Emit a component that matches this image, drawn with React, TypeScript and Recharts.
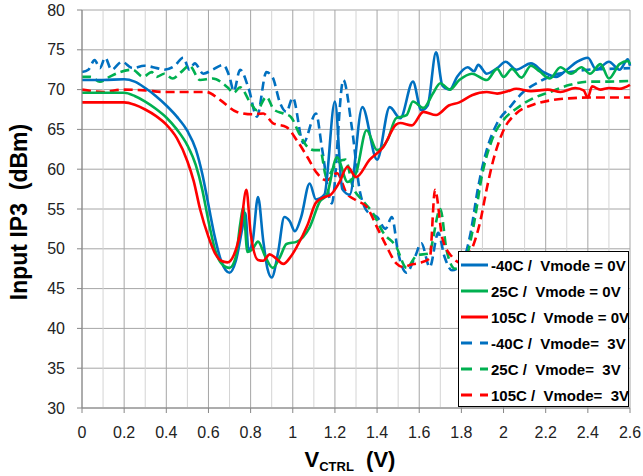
import React from "react";
import { LineChart, Line, XAxis, YAxis, CartesianGrid, ReferenceLine } from "recharts";

// x ticks every 0.1 V (labels only on the 0.2 steps)
const xTicks = [
  0, 0.1, 0.2, 0.3, 0.4, 0.5, 0.6, 0.7, 0.8, 0.9, 1, 1.1, 1.2, 1.3, 1.4, 1.5, 1.6, 1.7, 1.8, 1.9, 2,
  2.1, 2.2, 2.3, 2.4, 2.5, 2.6,
];
const yTicks = [30, 35, 40, 45, 50, 55, 60, 65, 70, 75, 80];

// [Vctrl, IIP3 dBm]
const blue0V: [number, number][] = [
  [0, 71.2], [0.1, 71.2], [0.2, 71.3], [0.25, 71], [0.3, 70.2], [0.35, 69.2], [0.4, 68], [0.45, 66.6],
  [0.5, 64.8], [0.54, 62.5], [0.57, 59.5], [0.6, 55.5], [0.63, 51.5], [0.66, 48.5], [0.7, 47],
  [0.73, 48.5], [0.76, 52.5], [0.775, 54.5], [0.79, 49.8], [0.81, 51], [0.835, 56.5], [0.86, 51],
  [0.88, 47.5], [0.9, 46.4], [0.93, 49.5], [0.96, 54], [0.985, 53.5], [1.01, 52.2], [1.04, 54],
  [1.08, 58.2], [1.11, 56.2], [1.15, 56.8], [1.2, 68.5], [1.235, 57.5], [1.27, 56.8], [1.33, 67.8],
  [1.4, 61.2], [1.46, 67.8], [1.51, 66.4], [1.57, 71], [1.61, 67.4], [1.64, 68], [1.68, 74.7],
  [1.71, 70.5], [1.745, 70], [1.78, 71.6], [1.83, 72.8], [1.86, 72.3], [1.88, 73.1], [1.92, 72],
  [1.97, 72.7], [2.01, 73.5], [2.06, 72.5], [2.13, 73.3], [2.19, 72.2], [2.25, 71.6], [2.3, 72.5],
  [2.35, 73.5], [2.4, 74], [2.44, 72.5], [2.5, 73.5], [2.55, 72.5], [2.59, 73.8], [2.6, 73],
];
const green0V: [number, number][] = [
  [0, 69.6], [0.1, 69.6], [0.2, 69.6], [0.25, 69.2], [0.3, 68.5], [0.35, 67.6], [0.4, 66.5], [0.45, 65],
  [0.5, 63], [0.54, 60.5], [0.57, 57.5], [0.6, 53.5], [0.63, 50], [0.66, 48.2], [0.7, 47.6], [0.73, 49],
  [0.75, 53], [0.765, 55.2], [0.785, 49.6], [0.81, 50], [0.835, 50.9], [0.87, 49], [0.905, 47.6],
  [0.94, 49], [0.97, 50.6], [1.02, 50.9], [1.08, 52.7], [1.13, 56], [1.16, 56.7], [1.21, 61.5],
  [1.26, 58.4], [1.3, 59.5], [1.35, 64.9], [1.4, 62.4], [1.45, 63.7], [1.49, 66.4], [1.54, 66.8],
  [1.57, 68.5], [1.62, 67.7], [1.665, 69.5], [1.7, 70.8], [1.745, 70], [1.79, 71.2], [1.85, 72],
  [1.92, 71.2], [1.97, 72.6], [2.0, 71.6], [2.04, 72.6], [2.085, 71.5], [2.13, 73], [2.17, 72.3],
  [2.22, 71.4], [2.27, 72.8], [2.32, 72], [2.37, 72.8], [2.41, 72], [2.46, 73.2], [2.5, 71.4],
  [2.55, 73.2], [2.59, 73.6], [2.6, 73.2],
];
const red0V: [number, number][] = [
  [0, 68.4], [0.1, 68.4], [0.2, 68.4], [0.25, 68.1], [0.3, 67.5], [0.35, 66.7], [0.4, 65.6], [0.45, 63.9],
  [0.5, 61], [0.53, 58.5], [0.56, 55], [0.6, 51.5], [0.63, 49.5], [0.66, 48.5], [0.69, 48.3],
  [0.72, 49.2], [0.75, 52], [0.78, 57.4], [0.8, 52], [0.835, 48.6], [0.86, 48.5], [0.89, 49.3],
  [0.92, 48.8], [0.955, 48.1], [0.99, 49], [1.02, 50.3], [1.07, 53], [1.11, 55.8], [1.15, 56.5],
  [1.18, 56.8], [1.22, 58.3], [1.26, 60.3], [1.3, 59], [1.365, 61.2], [1.43, 62.8], [1.49, 65.6],
  [1.51, 65.8], [1.565, 65.5], [1.62, 67.2], [1.68, 66.8], [1.74, 68], [1.79, 68.4], [1.85, 69.3],
  [1.92, 69.7], [1.97, 69.5], [2.02, 69.8], [2.06, 70.1], [2.13, 69.8], [2.21, 70], [2.27, 69.7],
  [2.34, 70.2], [2.38, 69.9], [2.4, 69], [2.42, 70.4], [2.46, 70], [2.5, 70.2], [2.55, 70.1], [2.6, 70.6],
];
const blue3V: [number, number][] = [
  [0, 72.2], [0.03, 72.5], [0.06, 73.7], [0.085, 72.7], [0.11, 74], [0.14, 72.5], [0.19, 73.5],
  [0.24, 72.7], [0.295, 73], [0.355, 72.7], [0.39, 72.5], [0.44, 73], [0.48, 74], [0.51, 72.5],
  [0.535, 73.3], [0.575, 72], [0.62, 72.5], [0.67, 73.1], [0.7, 71.6], [0.72, 69.8], [0.75, 72.5],
  [0.79, 70.2], [0.83, 66.6], [0.875, 72.2], [0.905, 71.5], [0.94, 68.3], [0.97, 67.2], [1.0, 69],
  [1.05, 63.3], [1.11, 67], [1.14, 62.4], [1.185, 55.7], [1.24, 71.2], [1.28, 65.3], [1.32, 57],
  [1.36, 54.5], [1.4, 54], [1.44, 52.5], [1.47, 54], [1.5, 49.5], [1.54, 47], [1.58, 49], [1.61, 50.7],
  [1.65, 47.7], [1.69, 52], [1.72, 49], [1.755, 47.3], [1.8, 48], [1.84, 51.5], [1.88, 57.8],
  [1.92, 62.4], [1.97, 65.8], [2.03, 67.8], [2.09, 69.6], [2.17, 71], [2.235, 71.8], [2.315, 72.2],
  [2.4, 72.5], [2.5, 72.6], [2.6, 72.7],
];
const green3V: [number, number][] = [
  [0, 71.6], [0.04, 71.6], [0.085, 71], [0.13, 71.6], [0.18, 72.2], [0.24, 72.5], [0.29, 71.6],
  [0.33, 72.2], [0.355, 71.6], [0.39, 72], [0.43, 71.4], [0.47, 72.2], [0.51, 73], [0.56, 71.2],
  [0.62, 71.4], [0.69, 70.3], [0.72, 69.6], [0.75, 70.3], [0.8, 68.3], [0.83, 67.4], [0.875, 69.1],
  [0.91, 67.5], [0.955, 67], [0.99, 66.6], [1.03, 64.5], [1.07, 62.8], [1.1, 62.4], [1.13, 62.4],
  [1.16, 59], [1.21, 60.8], [1.25, 61.2], [1.285, 57.8], [1.33, 56.1], [1.38, 54.5], [1.43, 52],
  [1.49, 50.3], [1.54, 47.6], [1.59, 49.2], [1.645, 49.4], [1.7, 55], [1.73, 49.8], [1.77, 47.5],
  [1.81, 48], [1.855, 52.5], [1.9, 59.5], [1.95, 64], [2.0, 66.2], [2.06, 67.6], [2.14, 68.9],
  [2.22, 69.7], [2.315, 70.6], [2.4, 71], [2.5, 71], [2.6, 71.1],
];
const red3V: [number, number][] = [
  [0, 70], [0.05, 69.8], [0.1, 69.7], [0.195, 70], [0.3, 69.9], [0.385, 69.7], [0.51, 69.7], [0.59, 69.7],
  [0.655, 68.7], [0.735, 67.2], [0.81, 66.9], [0.86, 67], [0.905, 65.8], [0.97, 65.3], [1.02, 63.6],
  [1.07, 61.5], [1.115, 59.5], [1.16, 58.6], [1.21, 59.5], [1.255, 57], [1.3, 56.1], [1.35, 55.3],
  [1.4, 52.7], [1.445, 50.3], [1.49, 48.2], [1.525, 47.7], [1.56, 48], [1.6, 48.2], [1.65, 48.8],
  [1.675, 57.4], [1.71, 51.3], [1.755, 49], [1.8, 48.2], [1.85, 50], [1.89, 53.5], [1.92, 57.5],
  [1.95, 61], [2.0, 64.9], [2.06, 67], [2.14, 68.1], [2.235, 68.7], [2.31, 68.9], [2.4, 69], [2.5, 69],
  [2.6, 69],
];

const BLUE = "#0070C0";
const GREEN = "#00B050";
const RED = "#FF0000";

const series = [
  { name: "-40C /  Vmode = 0V", pts: blue0V, color: BLUE, dashed: false },
  { name: "25C /  Vmode = 0V", pts: green0V, color: GREEN, dashed: false },
  { name: "105C /  Vmode = 0V", pts: red0V, color: RED, dashed: false },
  { name: "-40C /  Vmode=  3V", pts: blue3V, color: BLUE, dashed: true },
  { name: "25C /  Vmode=  3V", pts: green3V, color: GREEN, dashed: true },
  { name: "105C /  Vmode=  3V", pts: red3V, color: RED, dashed: true },
];

const tickFont = "'Liberation Sans', Arial, sans-serif";
const isMajor = (v: number) => Math.round(v * 10) % 2 === 0;

function XTick(props: any) {
  const { x, y, payload } = props;
  const v = payload.value as number;
  if (!isMajor(v)) return null;
  return (
    <g>
      <line x1={x} x2={x} y1={y - 5} y2={y} stroke="#868686" />
      <text x={x} y={y + 25} textAnchor="middle" fontSize={16} fontFamily={tickFont} fill="#222">
        {String(Number(v.toFixed(1)))}
      </text>
    </g>
  );
}

function LegendBox() {
  return (
    <div
      style={{
        position: "absolute",
        left: 450,
        top: 251,
        width: 171,
        height: 156,
        border: "1px solid #000",
        background: "#fff",
        boxSizing: "border-box",
      }}
    >
      {series.map((s) => (
        <div key={s.name} style={{ height: 26, display: "flex", alignItems: "center" }}>
          <svg width={30} height={6} style={{ marginLeft: 2, flex: "none" }}>
            <line
              x1={0}
              x2={27}
              y1={3}
              y2={3}
              stroke={s.color}
              strokeWidth={3}
              strokeDasharray={s.dashed ? "11 8" : undefined}
            />
          </svg>
          <span
            style={{
              fontFamily: "'Liberation Sans', Arial, sans-serif",
              fontWeight: "bold",
              fontSize: 15,
              whiteSpace: "pre",
              color: "#000",
            }}
          >
            {s.name}
          </span>
        </div>
      ))}
    </div>
  );
}

export default function App() {
  const drawOrder = [...series.slice(3), ...series.slice(0, 3)];
  return (
    <div style={{ position: "absolute", left: 8, top: 0, width: 635, height: 476 }}>
      <LineChart
        width={635}
        height={468}
        margin={{ top: 10, right: 13, left: 0, bottom: 0 }}
        style={{ overflow: "visible" }}
      >
        <CartesianGrid vertical={false} stroke="#A6A6A6" />
        {xTicks.map((v) => (
          <ReferenceLine key={v} x={v} stroke={isMajor(v) ? "#A6A6A6" : "#D4D4D4"} />
        ))}
        <XAxis
          type="number"
          dataKey="x"
          domain={[0, 2.6]}
          ticks={xTicks}
          interval={0}
          height={60}
          tickLine={false}
          tickSize={5}
          tickMargin={0}
          tick={<XTick />}
          axisLine={{ stroke: "#868686" }}
          allowDuplicatedCategory={false}
        />
        <YAxis
          type="number"
          domain={[30, 80]}
          ticks={yTicks}
          interval={0}
          width={74}
          tickSize={5}
          tickMargin={12}
          tickLine={{ stroke: "#868686" }}
          axisLine={{ stroke: "#868686" }}
          tick={{ fontSize: 16, fontFamily: tickFont, fill: "#222" }}
        />
        {drawOrder.map((s) => (
          <Line
            key={s.name}
            name={s.name}
            data={s.pts.map(([x, y]) => ({ x, y }))}
            dataKey="y"
            type="monotone"
            stroke={s.color}
            strokeWidth={2.6}
            strokeDasharray={s.dashed ? "9 5" : undefined}
            dot={false}
            activeDot={false}
            isAnimationActive={false}
          />
        ))}
      </LineChart>
      <div
        style={{
          position: "absolute",
          left: 11,
          top: 212,
          transform: "translate(-50%, -50%) rotate(-90deg)",
          fontFamily: "'Liberation Sans', Arial, sans-serif",
          fontWeight: "bold",
          fontSize: 23,
          whiteSpace: "pre",
          color: "#000",
        }}
      >
        {"Input IP3  (dBm)"}
      </div>
      <div
        style={{
          position: "absolute",
          left: 342,
          top: 463,
          transform: "translate(-50%, -50%)",
          fontFamily: "'Liberation Sans', Arial, sans-serif",
          fontWeight: "bold",
          fontSize: 22,
          whiteSpace: "pre",
          color: "#000",
          lineHeight: "24px",
        }}
      >
        V<sub style={{ fontSize: 13, verticalAlign: "-4px" }}>CTRL</sub>
        {"  (V)"}
      </div>
      <LegendBox />
    </div>
  );
}
